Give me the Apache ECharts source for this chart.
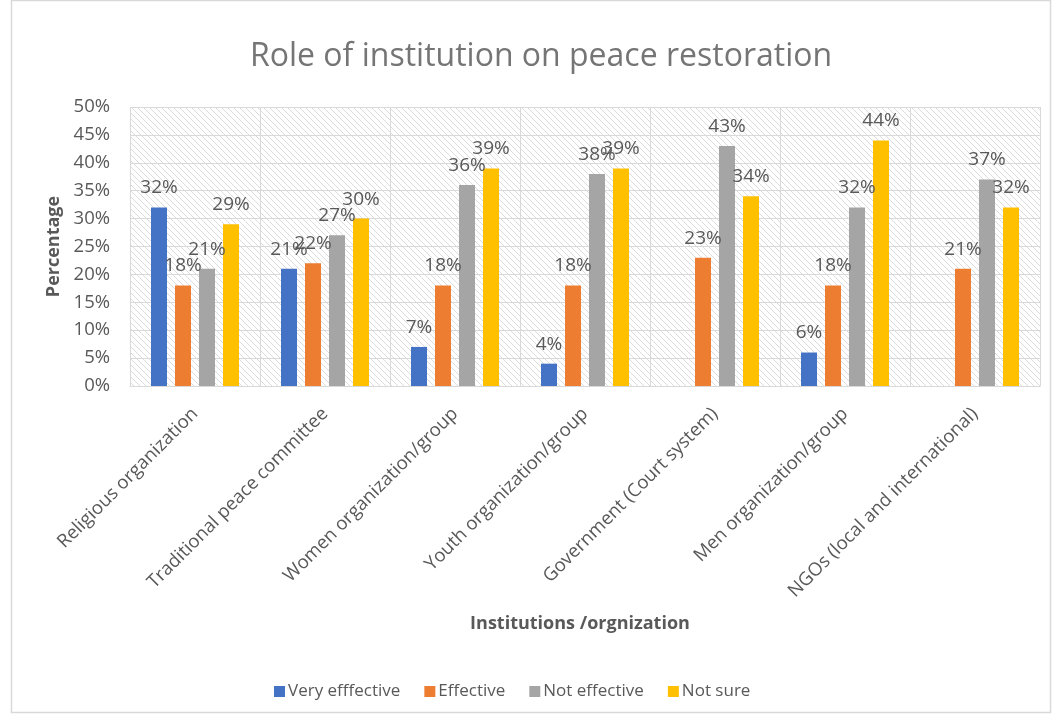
<!DOCTYPE html>
<html>
<head>
<meta charset="utf-8">
<script src="https://cdn.jsdelivr.net/npm/echarts@6/dist/echarts.min.js"></script>
<style>
  html, body { margin: 0; padding: 0; background: #fff; }
  #chart { width: 1055px; height: 717px; }
</style>
</head>
<body>
<div id="chart"></div>
<script>
// Institutions rated on their role in restoring peace (percent of respondents)
const categories = [
  'Religious organization',
  'Traditional peace committee',
  'Women organization/group',
  'Youth organization/group',
  'Government (Court system)',
  'Men organization/group',
  'NGOs (local and international)'
];
const veryEffective = [32, 21, 7, 4, null, 6, null];
const effective     = [18, 22, 18, 18, 23, 18, 21];
const notEffective  = [21, 27, 36, 38, 43, 32, 37];
const notSure       = [29, 30, 39, 39, 34, 44, 32];
const seriesNames = ['Very efffective', 'Effective', 'Not effective', 'Not sure'];
const colors = ['#4472C4', '#ED7D31', '#A5A5A5', '#FFC000'];

// Diagonal hatch fill for the plot area
function hatchPattern() {
  const c = document.createElement('canvas');
  const s = 6;
  c.width = s; c.height = s;
  const g = c.getContext('2d');
  g.fillStyle = '#ffffff';
  g.fillRect(0, 0, s, s);
  g.strokeStyle = '#dcdcdc';
  g.lineWidth = 1;
  g.beginPath();
  g.moveTo(-1, -1); g.lineTo(s + 1, s + 1);
  g.moveTo(-1, s - 1); g.lineTo(1, s + 1);
  g.moveTo(s - 1, -1); g.lineTo(s + 1, 1);
  g.stroke();
  return { image: c, repeat: 'repeat' };
}

const FONT = 'Open Sans';
const TXT = '#595959';

const chart = echarts.init(document.getElementById('chart'), null, { renderer: 'canvas' });

const labelStyle = {
  show: true,
  position: 'top',
  distance: 10,
  formatter: p => p.value + '%',
  fontFamily: FONT,
  fontSize: 19,
  color: TXT
};

const dataSets = [veryEffective, effective, notEffective, notSure];

chart.setOption({
  backgroundColor: '#ffffff',
  animation: false,
  title: {
    text: 'Role of institution on peace restoration',
    left: 245,
    top: 36,
    textStyle: { fontFamily: FONT, fontSize: 32, fontWeight: 'normal', color: '#757575' }
  },
  legend: {
    left: 269,
    top: 678,
    itemWidth: 11,
    itemHeight: 11,
    itemGap: 24,
    icon: 'rect',
    data: seriesNames,
    textStyle: { fontFamily: FONT, fontSize: 17, color: TXT, padding: [0, 0, 0, -2] }
  },
  grid: {
    left: 130,
    right: 15,
    top: 107,
    bottom: 331,
    show: true,
    borderWidth: 0,
    backgroundColor: hatchPattern()
  },
  xAxis: {
    type: 'category',
    data: categories,
    name: 'Institutions /orgnization',
    nameLocation: 'middle',
    nameGap: 229,
    nameTextStyle: { fontFamily: FONT, fontSize: 18, fontWeight: 'bold', color: TXT, padding: [0, 10, 0, 0] },
    axisLine: { show: true, lineStyle: { color: '#d9d9d9', width: 1 } },
    axisTick: { show: false },
    splitLine: { show: true, lineStyle: { color: '#d9d9d9', width: 1 } },
    axisLabel: {
      rotate: 45,
      margin: 25,
      interval: 0,
      fontFamily: FONT,
      fontSize: 18.5,
      color: TXT
    }
  },
  yAxis: {
    type: 'value',
    min: 0,
    max: 50,
    interval: 5,
    name: 'Percentage',
    nameLocation: 'middle',
    nameGap: 63,
    nameRotate: 90,
    nameTextStyle: { fontFamily: FONT, fontSize: 18, fontWeight: 'bold', color: TXT },
    axisLine: { show: false },
    axisTick: { show: false },
    splitLine: { show: true, lineStyle: { color: '#d9d9d9', width: 1 } },
    axisLabel: {
      formatter: '{value}%',
      margin: 20,
      fontFamily: FONT,
      fontSize: 18.5,
      color: TXT
    }
  },
  series: seriesNames.map((name, i) => ({
    name,
    type: 'bar',
    data: dataSets[i],
    barWidth: 16,
    barGap: '50%',
    barCategoryGap: '32%',
    itemStyle: { color: colors[i] },
    label: labelStyle
  })),
  graphic: [{
    type: 'rect',
    shape: { x: 11.5, y: 0.5, width: 1039, height: 712 },
    style: { fill: null, stroke: '#d9d9d9', lineWidth: 1.5 },
    silent: true,
    z: -1
  }]
});
</script>
</body>
</html>
